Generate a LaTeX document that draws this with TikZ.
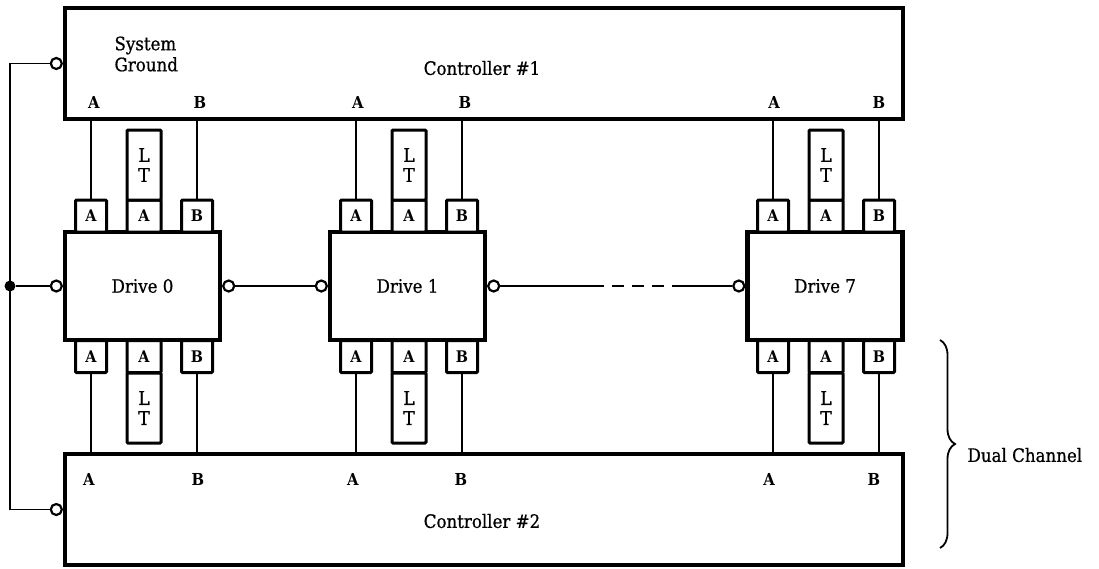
\documentclass[tikz,border=0pt]{standalone}
\usepackage{fontspec}
\setmainfont{DejaVu Serif}[FakeStretch=0.9,UprightFeatures={FakeBold=0.7}]
\usetikzlibrary{decorations.pathreplacing}
\begin{document}
\begin{tikzpicture}[x=1pt,y=-1pt,
    font=\fontsize{18.5}{21}\selectfont,
    box/.style={draw,line width=4.2pt,inner sep=0pt},
    ctrl/.style={box,minimum width=838pt,minimum height=111pt},
    drive/.style={box,minimum width=155pt,minimum height=108pt},
    port/.style={draw,fill=white,line width=3pt,rounded corners=1pt,inner sep=0pt,
      minimum width=31pt,minimum height=32pt,font=\bfseries\fontsize{16}{16}\selectfont},
    ltbox/.style={draw,fill=white,line width=3pt,rounded corners=1pt,inner sep=0pt,
      minimum width=34pt,minimum height=70pt,align=center,font=\fontsize{19}{20}\selectfont},
    pin/.style={font=\bfseries\fontsize{16.5}{16}\selectfont},
    bub/.style={circle,draw,fill=white,line width=2.2pt,inner sep=0pt,minimum size=11pt},
    wire/.style={line width=1.4pt}]
  \useasboundingbox (0,0) rectangle (1099,568);
  % controllers
  \node (c1) [ctrl] at (484,63.5) {};
  \node (c2) [ctrl] at (484,509.5) {};
  \node (c1t) at (482,68) {Controller \#1};
  \node (c2t) at (482,521) {Controller \#2};
  \node (gndt) [anchor=west,align=left] at (111,54) {System\\Ground};
  % drives
  \node (d0) [drive] at (142.5,286) {Drive 0};
  \node (d1) [drive] at (407.5,286) {Drive 1};
  \node (d7) [drive] at (825,286) {Drive 7};
  % ports on top
  \node (d0ta) [port] at (91,216) {A};
  \node (d0tl) [port,minimum width=34pt] at (144,216) {A};
  \node (d0tb) [port] at (197,216) {B};
  \node (d0tlt) [ltbox] at (144,165) {L\\T};
  \node (d1ta) [port] at (356,216) {A};
  \node (d1tl) [port,minimum width=34pt] at (409,216) {A};
  \node (d1tb) [port] at (462,216) {B};
  \node (d1tlt) [ltbox] at (409,165) {L\\T};
  \node (d7ta) [port] at (773,216) {A};
  \node (d7tl) [port,minimum width=34pt] at (826,216) {A};
  \node (d7tb) [port] at (879,216) {B};
  \node (d7tlt) [ltbox] at (826,165) {L\\T};
  % ports below
  \node (d0ba) [port] at (91,356.5) {A};
  \node (d0bl) [port,minimum width=34pt] at (144,356.5) {A};
  \node (d0bb) [port] at (197,356.5) {B};
  \node (d0blt) [ltbox] at (144,408) {L\\T};
  \node (d1ba) [port] at (356,356.5) {A};
  \node (d1bl) [port,minimum width=34pt] at (409,356.5) {A};
  \node (d1bb) [port] at (462,356.5) {B};
  \node (d1blt) [ltbox] at (409,408) {L\\T};
  \node (d7ba) [port] at (773,356.5) {A};
  \node (d7bl) [port,minimum width=34pt] at (826,356.5) {A};
  \node (d7bb) [port] at (879,356.5) {B};
  \node (d7blt) [ltbox] at (826,408) {L\\T};
  % pin letters in the controllers
  \node (p1a0) [pin] at (94,102) {A};
  \node (p1b0) [pin] at (200,102) {B};
  \node (p1a1) [pin] at (358,102) {A};
  \node (p1b1) [pin] at (465,102) {B};
  \node (p1a7) [pin] at (774,102) {A};
  \node (p1b7) [pin] at (879,102) {B};
  \node (p2a0) [pin] at (89,479) {A};
  \node (p2b0) [pin] at (198,479) {B};
  \node (p2a1) [pin] at (353,479) {A};
  \node (p2b1) [pin] at (461,479) {B};
  \node (p2a7) [pin] at (769,479) {A};
  \node (p2b7) [pin] at (874,479) {B};
  % cables to the controllers
  \draw[wire] (d0ta.north) -- (d0ta.north |- c1.south);
  \draw[wire] (d0tb.north) -- (d0tb.north |- c1.south);
  \draw[wire] (d1ta.north) -- (d1ta.north |- c1.south);
  \draw[wire] (d1tb.north) -- (d1tb.north |- c1.south);
  \draw[wire] (d7ta.north) -- (d7ta.north |- c1.south);
  \draw[wire] (d7tb.north) -- (d7tb.north |- c1.south);
  \draw[wire] (d0ba.south) -- (d0ba.south |- c2.north);
  \draw[wire] (d0bb.south) -- (d0bb.south |- c2.north);
  \draw[wire] (d1ba.south) -- (d1ba.south |- c2.north);
  \draw[wire] (d1bb.south) -- (d1bb.south |- c2.north);
  \draw[wire] (d7ba.south) -- (d7ba.south |- c2.north);
  \draw[wire] (d7bb.south) -- (d7bb.south |- c2.north);
  % ground
  \node (bc1) [bub,anchor=east] at (c1.west) {};
  \node (bc2) [bub,anchor=east] at (c2.west) {};
  \node (bd0l) [bub,anchor=east] at (d0.west) {};
  \node (gdot) [circle,fill,inner sep=0pt,minimum size=11pt] at (10,286) {};
  \draw[wire] (bc1.west) -| (gdot.center) |- (bc2.west);
  \draw[wire] (gdot) -- (bd0l);
  % drive chain
  \node (bd0r) [bub,anchor=west] at (d0.east) {};
  \node (bd1l) [bub,anchor=east] at (d1.west) {};
  \node (bd1r) [bub,anchor=west] at (d1.east) {};
  \node (bd7l) [bub,anchor=east] at (d7.west) {};
  \coordinate (gapl) at (604,286);
  \coordinate (dshl) at (612,286);
  \coordinate (dshr) at (664,286);
  \coordinate (gapr) at (672,286);
  \draw[wire] (bd0r) -- (bd1l);
  \draw[wire] (bd1r) -- (gapl);
  \draw[wire,dash pattern=on 12pt off 8pt] (dshl) -- (dshr);
  \draw[wire] (gapr) -- (bd7l);
  % dual channel
  \coordinate (brt) at (940,340);
  \coordinate (brb) at (940,548);
  \draw[line width=1.8pt,decorate,decoration={brace,amplitude=15pt}] (brt) -- (brb);
  \node (dual) [anchor=west] at (964,455) {Dual Channel};
\end{tikzpicture}
\end{document}
